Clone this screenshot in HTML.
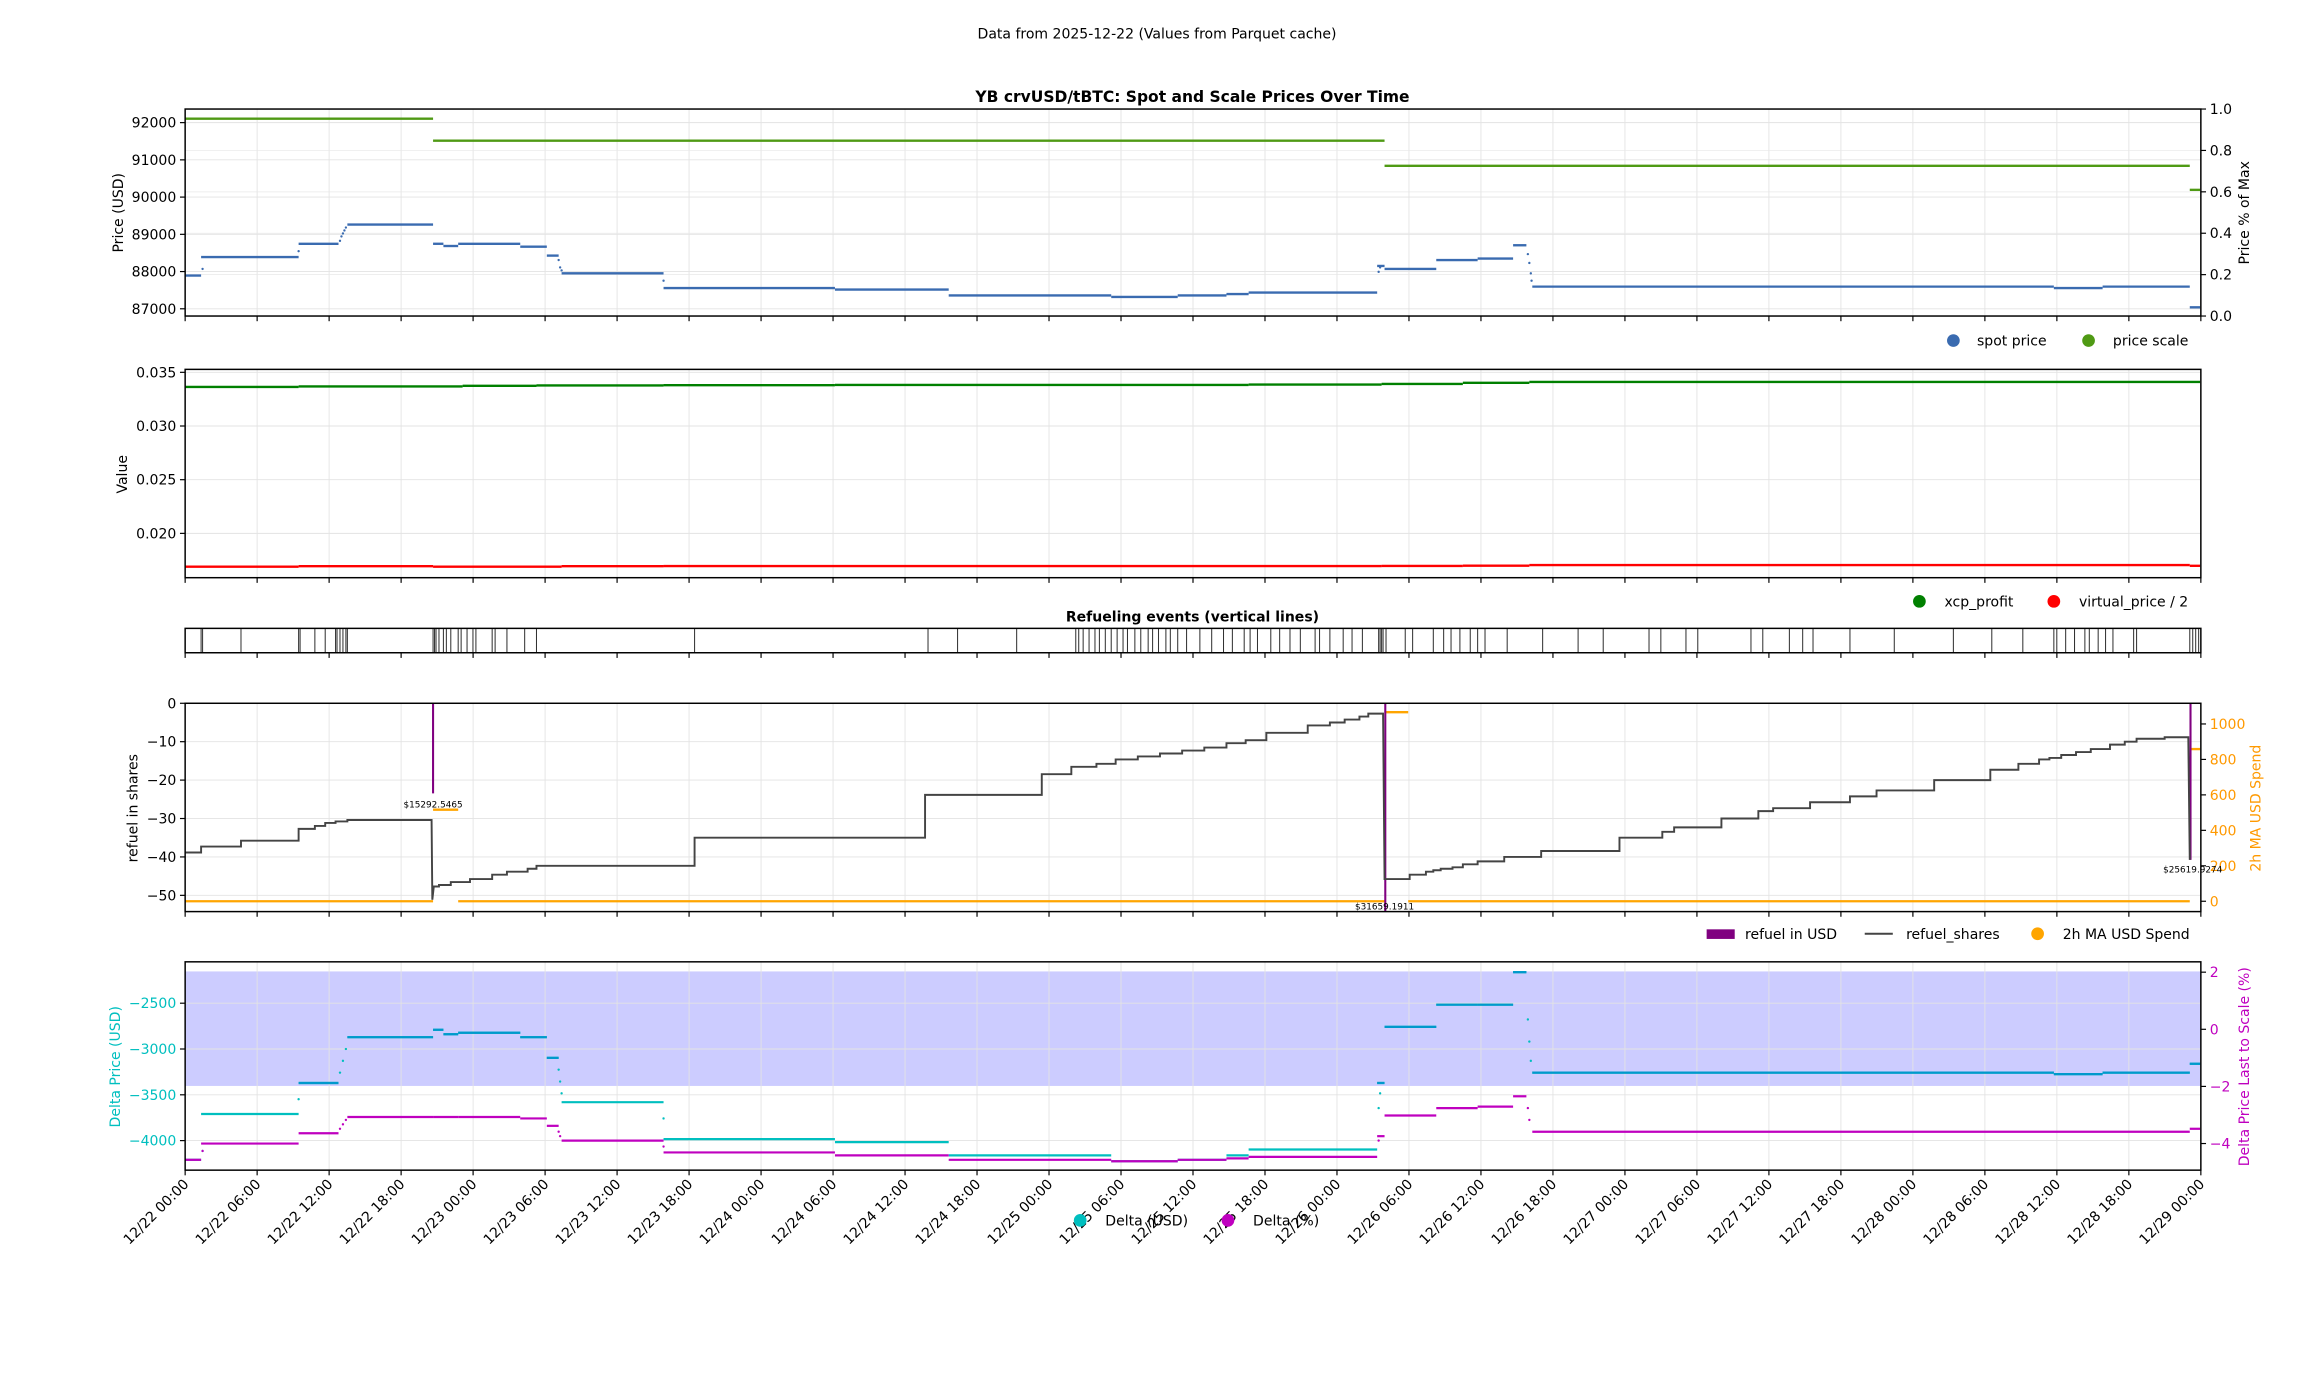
<!DOCTYPE html>
<html><head><meta charset="utf-8"><style>
html,body{margin:0;padding:0;background:#fff;}
svg{display:block;font-family:"DejaVu Sans","Liberation Sans",sans-serif;}
</style></head><body>
<svg id="s" width="2317" height="1377" viewBox="0 0 1568 932" xmlns="http://www.w3.org/2000/svg"></svg>
<script>
const S=document.getElementById('s');
let out='';
const L=125.2,R=1489.5;
function hx(h){return L+(R-L)*h/168;}
function line(x1,y1,x2,y2,c,w,extra){out+=`<line x1="${x1}" y1="${y1}" x2="${x2}" y2="${y2}" stroke="${c}" stroke-width="${w}" ${extra||''}/>`;}
function text(x,y,t,opt){opt=opt||{};out+=`<text x="${x}" y="${y}" font-size="${opt.fs||9.5}" fill="${opt.c||'#000'}" text-anchor="${opt.a||'middle'}" ${opt.b?'font-weight="bold"':''} ${opt.tr?`transform="${opt.tr}"`:''}>${t}</text>`;}
function frame(t,b){out+=`<rect x="${L}" y="${t}" width="${R-L}" height="${b-t}" fill="none" stroke="#000" stroke-width="1"/>`;}
function xgrid(t,b,ticks){for(let i=0;i<=28;i++){const x=hx(i*6);if(i>0&&i<28)line(x,t,x,b,'#e3e3e3',0.6);if(ticks!==false)line(x,b,x,b+3.5,'#000',0.8);}}
function ygrid(t,b,vals,map,fmt,c){for(const v of vals){const y=map(v);line(L,y,R,y,'#e3e3e3',0.6);line(L-3.5,y,L,y,'#000',0.8);text(L-6,y+3.4,fmt(v),{a:'end',c:c||'#000'});}}
function yright(vals,map,fmt,c){for(const v of vals){const y=map(v);line(R,y,R+3.5,y,'#000',0.8);text(R+6,y+3.4,fmt(v),{a:'start',c:c||'#000'});}}
function segs(arr,c,w,dash){for(const s of arr){line(s[0],s[2],s[1],s[2],c,w,dash?'stroke-dasharray="0.8 0.9"':'');}}
function steps(arr,c,w){let d='';arr.forEach((p,i)=>{d+=(i?'L':'M')+p[0]+' '+p[1]+' ';});out+=`<path d="${d}" fill="none" stroke="${c}" stroke-width="${w}"/>`;}
function dots(pts,c,r){for(const p of pts)out+=`<circle cx="${p[0]}" cy="${p[1]}" r="${r||0.8}" fill="${c}"/>`;}
const minus=v=>String(v).replace('-','\u2212');

text(783,26,'Data from 2025-12-22 (Values from Parquet cache)',{fs:9.5});
// ===== Panel 1 =====
let t1=73.8,b1=213.9;
text(807,69,'YB crvUSD/tBTC: Spot and Scale Prices Over Time',{fs:10.5,b:true});
const p1=v=>83-(v-92000)*0.0252;
xgrid(t1,b1);
ygrid(t1,b1,[87000,88000,89000,90000,91000,92000],p1,v=>v);
const r1=v=>213.9-v*140.1;
for(const v of [0.2,0.4,0.6,0.8]){line(L,r1(v),R,r1(v),'#e8e8e8',0.5);}
yright([0,0.2,0.4,0.6,0.8,1.0],r1,v=>v.toFixed(1));
text(83,144,'Price (USD)',{tr:'rotate(-90 83 144)'});
text(1522,144,'Price % of Max',{tr:'rotate(-90 1522 144)'});
const G1='#4f9a14';
segs([[125.5,293,80.3],[293,937,95.2],[937,1482,112.2],[1482,1489,128.5]],G1,1.6,false);
const B1='#3a6bb0';
const sp=[[125.5,136,186.5],[136,202,174],[202,229,165],[235,293,152],[293,300,165],[300,310,166.5],[310,352,165],[352,370,167],[370,378,173],[380,449,185],[449,565,195],[565,642,196],[642,752,200],[752,797,201],[797,830,200],[830,845,199],[845,932,198],[932,937,180],[937,972,182],[972,1000,176],[1000,1024,175],[1024,1033,166],[1037,1390,194],[1390,1423,195],[1423,1482,194],[1482,1489,208]];
segs(sp,B1,1.6);
dots([[137,182],[202,170],[230,163],[231,160],[232,158],[233,156],[234,154],[378,176],[379,181],[380,183],[449,190],[1034,172],[1035,178],[1036,185],[1036.5,190],[933,184],[934,181]],B1,0.8);
out+=`<circle cx="1322" cy="230.5" r="4.3" fill="${B1}"/><circle cx="1413.5" cy="230.5" r="4.3" fill="${G1}"/>`;
text(1338,234,'spot price',{a:'start'});text(1430,234,'price scale',{a:'start'});

// ===== Panel 2 =====
let t2=250,b2=391;
const p2=v=>252-(v-0.035)*7267;
xgrid(t2,b2);
ygrid(t2,b2,[0.020,0.025,0.030,0.035],p2,v=>v.toFixed(3));
text(86,321,'Value',{tr:'rotate(-90 86 321)'});
const xc=[[125.5,202,0.03364],[202,313,0.03368],[313,363,0.03374],[363,449,0.03378],[449,565,0.0338],[565,845,0.03382],[845,935,0.03386],[935,990,0.03392],[990,1035,0.03402],[1035,1489,0.0341]];
segs(xc.map(s=>[s[0],s[1],p2(s[2])]),'#008000',1.6);
const vp=[[125.5,202,0.01690],[202,293,0.01694],[293,380,0.0169],[380,449,0.01694],[449,935,0.01696],[935,990,0.01697],[990,1035,0.01699],[1035,1482,0.01705],[1482,1489,0.01698]];
segs(vp.map(s=>[s[0],s[1],p2(s[2])]),'#ff0000',1.6);
out+=`<circle cx="1299" cy="407" r="4.3" fill="#008000"/><circle cx="1390" cy="407" r="4.3" fill="#ff0000"/>`;
text(1316,410.5,'xcp_profit',{a:'start'});text(1407,410.5,'virtual_price / 2',{a:'start'});

// ===== Event strip =====
let t3=425.3,b3=441.8;
text(807,420.5,'Refueling events (vertical lines)',{fs:9.5,b:true});
const ev=[136,137,163,202,203,213,220,227,228,230,232,234,235,293,294,295,297,300,302,305,310,312,316,320,322,333,335,343,355,363,470,628,648,688,728,730,733,737,741,744,748,752,756,760,763,768,772,777,780,784,789,792,797,803,812,820,828,834,842,846,851,860,866,873,880,890,893,900,909,915,922,933,934,935,936,938,951,956,970,977,982,988,995,1000,1005,1020,1044,1068,1085,1116,1124,1141,1149,1185,1193,1211,1220,1227,1252,1282,1322,1348,1369,1390,1392,1398,1404,1411,1414,1420,1425,1430,1444,1446,1482,1484,1486,1488];
for(const x of ev)line(x,t3,x,b3,'#333',0.7);
for(let i=0;i<=28;i++){const x=hx(i*6);line(x,b3,x,b3+3.5,'#000',0.8);}

// ===== Panel 4 =====
let t4=476,b4=617;
const p4=v=>476-v*2.6;
const r4=v=>610-v*0.12;
xgrid(t4,b4);
ygrid(t4,b4,[0,-10,-20,-30,-40,-50],p4,v=>minus(v));
yright([0,200,400,600,800,1000],r4,v=>v,'#ff9900');
text(93,547,'refuel in shares',{tr:'rotate(-90 93 547)'});
text(1530,547,'2h MA USD Spend',{c:'#ff9900',tr:'rotate(-90 1530 547)'});
const O='#ffa500';
segs([[125.5,293,610],[310,937,610],[953,1482,610]],O,1.6);
segs([[293,310,548],[937,953,482],[1482,1489,507]],O,1.6);
const P='#800080';
line(293,476,293,537,P,1.4);line(937.5,476,937.5,617,P,1.4);line(1482.5,476,1482.5,582,P,1.4);
text(293,546.5,'$15292.5465',{fs:6});text(937,615.5,'$31659.1911',{fs:6});text(1484,590.5,'$25619.9274',{fs:6});
const rs=[[125.5,577],[136,577],[136,573],[163,573],[163,569],[202,569],[202,561],[213,561],[213,559],[220,559],[220,557],[227,557],[227,556],[235,556],[235,555],[292,555],[292.5,609],[293.5,600],[297,600],[297,599],[305,599],[305,597],[318,597],[318,595],[333,595],[333,592],[343,592],[343,590],[357,590],[357,588],[363,588],[363,586],[470,586],[470,567],[626,567],[626,538],[705,538],[705,524],[725,524],[725,519],[742,519],[742,517],[755,517],[755,514],[770,514],[770,512],[785,512],[785,510],[800,510],[800,508],[815,508],[815,506],[830,506],[830,503],[843,503],[843,501],[857,501],[857,496],[885,496],[885,491],[900,491],[900,489],[910,489],[910,487],[920,487],[920,485],[926,485],[926,483],[936,483],[937,595],[954,595],[954,592],[965,592],[965,590],[970,590],[970,589],[975,589],[975,588],[983,588],[983,587],[990,587],[990,585],[1000,585],[1000,583],[1018,583],[1018,580],[1043,580],[1043,576],[1096,576],[1096,567],[1125,567],[1125,563],[1133,563],[1133,560],[1165,560],[1165,554],[1190,554],[1190,549],[1200,549],[1200,547],[1225,547],[1225,543],[1252,543],[1252,539],[1270,539],[1270,535],[1309,535],[1309,528],[1347,528],[1347,521],[1366,521],[1366,517],[1380,517],[1380,514],[1387,514],[1387,513],[1395,513],[1395,511],[1405,511],[1405,509],[1415,509],[1415,507],[1428,507],[1428,504],[1438,504],[1438,502],[1446,502],[1446,500],[1465,500],[1465,499],[1481,499],[1482,582]];
steps(rs,'#444',1.3);
out+=`<rect x="1155" y="629" width="19" height="6.5" fill="${P}"/>`;
line(1262,632,1281,632,'#444',1.3);
out+=`<circle cx="1379" cy="632" r="4.3" fill="${O}"/>`;
text(1181,635.5,'refuel in USD',{a:'start'});text(1290,635.5,'refuel_shares',{a:'start'});text(1396,635.5,'2h MA USD Spend',{a:'start'});

// ===== Panel 5 =====
let t5=651,b5=792;
const p5=v=>679-(v+2500)*0.062;
const r5=v=>658+(2-v)*19.33;
out+=`<rect x="${L}" y="657.5" width="${R-L}" height="77.5" fill="#0000ff" fill-opacity="0.2"/>`;
xgrid(t5,b5);
ygrid(t5,b5,[-4000,-3500,-3000,-2500],p5,v=>minus(v),'#00bfbf');
yright([-4,-2,0,2],r5,v=>minus(v),'#bf00bf');
text(81,722,'Delta Price (USD)',{c:'#00bfbf',tr:'rotate(-90 81 722)'});
text(1522,722,'Delta Price Last to Scale (%)',{c:'#bf00bf',tr:'rotate(-90 1522 722)'});
const cy=[[125.5,136,785],[136,202,754],[202,229,733],[235,293,702],[293,300,697],[300,310,700],[310,352,699],[352,370,702],[370,378,716],[380,449,746],[449,565,771],[565,642,773],[642,752,782],[752,797,786],[797,830,785],[830,845,782],[845,932,778],[932,937,733],[937,972,695],[972,1000,680],[1000,1024,680],[1024,1033,658],[1037,1390,726],[1390,1423,727],[1423,1482,726],[1482,1489,720]];
segs(cy,'#00bfbf',1.5);
for(const s of cy){if(s[2]<735)line(s[0],s[2],s[1],s[2],'#0099cc',1.5);}
const mg=[[125.5,136,785],[136,202,774],[202,229,767],[235,293,756],[293,310,756],[310,352,756],[352,370,757],[370,378,762],[380,449,772],[449,565,780],[565,642,782],[642,752,785],[752,797,786],[797,830,785],[830,845,784],[845,932,783],[932,937,769],[937,972,755],[972,1000,750],[1000,1024,749],[1024,1033,742],[1037,1482,766],[1482,1489,764]];
segs(mg,'#bf00bf',1.5);
dots([[137,779],[202,744],[230,726],[232,718],[234,710],[378,724],[379,732],[380,740],[449,757],[933,750],[934,740],[1034,690],[1035,705],[1036,718]],'#00bfbf',0.8);
dots([[137,779],[230,764],[232,761],[234,758],[378,766],[379,769],[449,776],[933,772],[1034,750],[1035,758]],'#bf00bf',0.8);
const days=['12/22','12/23','12/24','12/25','12/26','12/27','12/28','12/29'];
const hh=['00:00','06:00','12:00','18:00'];
for(let i=0;i<=28;i++){const x=hx(i*6);const lab=days[Math.floor(i/4)]+' '+hh[i%4];text(x+3,802,lab,{a:'end',tr:`rotate(-45 ${x+3} 802)`});}
out+=`<circle cx="731" cy="826" r="4.3" fill="#00bfbf"/><circle cx="831" cy="826" r="4.3" fill="#bf00bf"/>`;
text(748,829.5,'Delta (USD)',{a:'start'});text(848,829.5,'Delta (%)',{a:'start'});

frame(t1,b1);frame(t2,b2);frame(t3,b3);frame(t4,b4);frame(t5,b5);
S.innerHTML=out;
</script>
</body></html>
